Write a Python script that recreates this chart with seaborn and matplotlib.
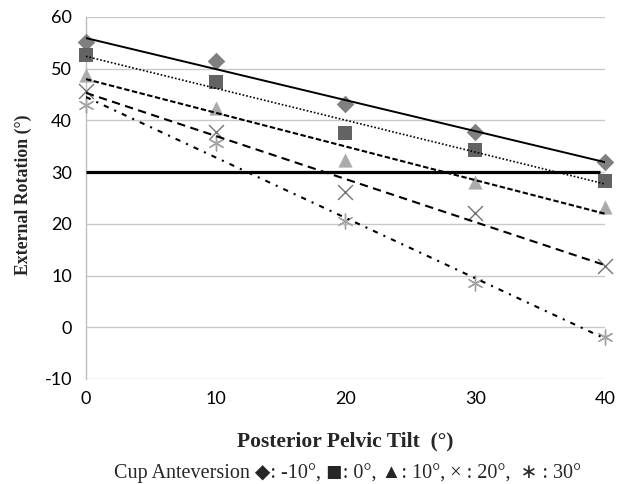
import numpy as np
import pandas as pd
import seaborn as sns
import matplotlib.pyplot as plt

# Values
tilt = [0, 10, 20, 30, 40]
er_m10 = [55.2, 51.4, 43.2, 37.8, 32.0]
er_0 = [52.6, 47.4, 37.6, 34.3, 28.3]
er_10 = [48.7, 42.4, 32.3, 28.1, 23.3]
er_20 = [45.6, 37.7, 26.2, 22.0, 11.8]
er_30 = [43.0, 35.6, 20.5, 8.6, -1.9]
anteversion = ["-10", "0", "10", "20", "30"]
threshold = 30
y_ticks = [-10, 0, 10, 20, 30, 40, 50, 60]
x_ticks = [0, 10, 20, 30, 40]

sns.set_style("white")
plt.rcParams['font.family'] = ['Lato', 'DejaVu Sans']
plt.rcParams['axes.unicode_minus'] = False

df = pd.DataFrame({
    'tilt': tilt * 5,
    'er': er_m10 + er_0 + er_10 + er_20 + er_30,
    'cup': sum([[a] * len(tilt) for a in anteversion], []),
})

# marker, colour, size, trendline style
styles = {
    "-10": dict(marker='D', color='#808080', s=80, ls='-', lw=1.4),
    "0": dict(marker='s', color='#636363', s=95, ls=(0, (1, 1.2)), lw=1.2),
    "10": dict(marker='^', color='#ababab', s=105, ls=(0, (2.6, 1.2)), lw=1.5),
    "20": dict(marker='x', color='#737373', s=115, ls=(0, (4, 2.6)), lw=1.5),
    "30": dict(marker=(6, 2, 0), color='#a3a3a3', s=115, ls=(0, (2.5, 3, 1, 3)), lw=1.5),
}

fig, ax = plt.subplots(figsize=(6.27, 4.84), dpi=100)
fig.subplots_adjust(left=0.137, right=0.965, top=0.965, bottom=0.217)

for cup in anteversion:
    st = styles[cup]
    sub = df[df['cup'] == cup]
    lw_m = 1.0 if st['marker'] in ('x', (6, 2, 0)) else 0
    sns.scatterplot(data=sub, x='tilt', y='er', marker=st['marker'], s=st['s'],
                    color=st['color'], linewidth=lw_m, edgecolor=st['color'],
                    ax=ax, zorder=3, clip_on=False, legend=False)
    sns.regplot(data=sub, x='tilt', y='er', scatter=False, ci=None, ax=ax,
                line_kws=dict(color='black', linestyle=st['ls'], linewidth=st['lw'], zorder=4))

ax.hlines(threshold, 0, 39.6, color='black', linewidth=2.3, zorder=5)

ax.set_xlim(0, 40)
ax.set_ylim(-10, 60)
ax.set_xticks(x_ticks)
ax.set_yticks(y_ticks)
ax.grid(axis='y', color='#c8c8c8', linewidth=1)
ax.grid(axis='x', visible=False)
for side in ['top', 'right', 'bottom']:
    ax.spines[side].set_visible(False)
ax.spines['left'].set_color('#bdbdbd')
ax.spines['left'].set_linewidth(1)
ax.tick_params(length=0, labelsize=13, colors='black')
ax.tick_params(axis='y', pad=10)
ax.tick_params(axis='x', pad=9)

ax.set_xlabel("Posterior Pelvic Tilt  (°)", family=['Liberation Serif', 'DejaVu Sans'],
              fontsize=15.5, fontweight='bold', va='center')
ax.xaxis.set_label_coords(0.5, -0.174)
ax.set_ylabel("External Rotation (°)", family=['Liberation Serif', 'DejaVu Sans'],
              fontsize=12.8, fontweight='bold', va='center')
ax.yaxis.set_label_coords(-0.12, 0.51)

fig.text(0.554, 0.023, "Cup Anteversion \u25c6: -10°, \u25fc: 0°, \u25b2: 10°, \u00d7 : 20°,  \u2217 : 30°",
         family=['Liberation Serif', 'DejaVu Sans'], fontsize=14.5, ha='center', va='center')

fig.savefig("out.png", dpi=100)
